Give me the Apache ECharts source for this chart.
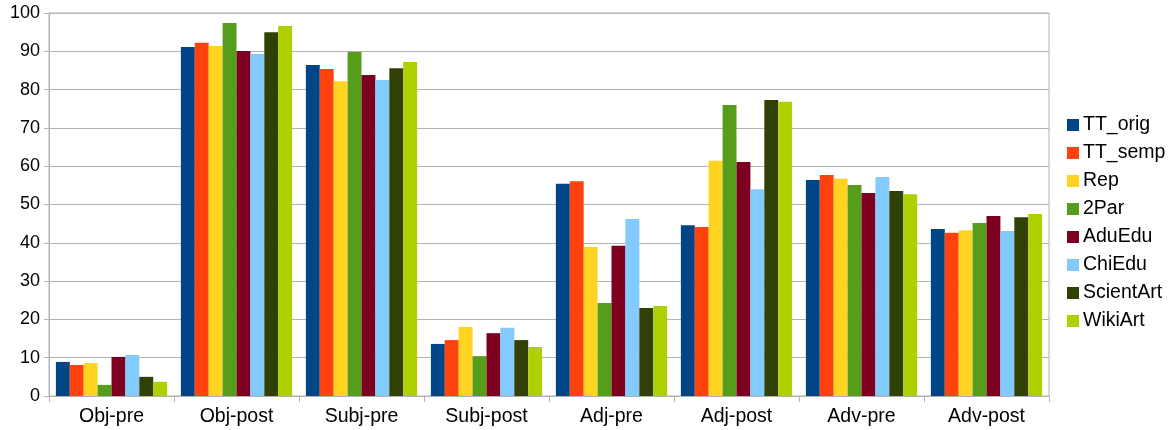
<!DOCTYPE html>
<html>
<head>
<meta charset="utf-8">
<script src="https://cdn.jsdelivr.net/npm/echarts@6/dist/echarts.min.js"></script>
<style>
  html, body { margin: 0; padding: 0; background: #fff; }
  #chart { width: 1175px; height: 430px; }
</style>
</head>
<body>
<div id="chart"></div>
<script>
// Categories along the x axis
const categories = ['Obj-pre', 'Obj-post', 'Subj-pre', 'Subj-post', 'Adj-pre', 'Adj-post', 'Adv-pre', 'Adv-post'];

// One array per system, values in category order
const TT_orig   = [8.9, 91.1, 86.4, 13.6, 55.4, 44.6, 56.4, 43.6];
const TT_semp   = [8.1, 92.2, 85.4, 14.6, 56.1, 44.1, 57.7, 42.6];
const Rep       = [8.6, 91.4, 82.2, 18.0, 38.9, 61.4, 56.7, 43.3];
const TwoPar    = [2.9, 97.4, 89.8, 10.4, 24.3, 76.0, 55.1, 45.2];
const AduEdu    = [10.2, 90.1, 83.8, 16.4, 39.2, 61.1, 53.0, 47.0];
const ChiEdu    = [10.7, 89.3, 82.5, 17.8, 46.2, 54.0, 57.2, 43.1];
const ScientArt = [5.0, 95.0, 85.6, 14.6, 23.0, 77.3, 53.5, 46.7];
const WikiArt   = [3.7, 96.6, 87.2, 12.8, 23.5, 76.8, 52.7, 47.5];

const seriesNames = ['TT_orig', 'TT_semp', 'Rep', '2Par', 'AduEdu', 'ChiEdu', 'ScientArt', 'WikiArt'];
const seriesData = [TT_orig, TT_semp, Rep, TwoPar, AduEdu, ChiEdu, ScientArt, WikiArt];
const colors = ['#004586', '#ff420e', '#ffd320', '#579d1c', '#7e0021', '#83caff', '#314004', '#aecf00'];

const yTicks = { min: 0, max: 100, interval: 10 };

const chart = echarts.init(document.getElementById('chart'), null, { renderer: 'canvas' });
const font = '"Liberation Sans", Arial, sans-serif';

chart.setOption({
  animation: false,
  color: colors,
  textStyle: { fontFamily: font },
  grid: {
    left: 49, right: 126, top: 13, bottom: 34,
    show: true, borderColor: '#b3b3b3', borderWidth: 1, backgroundColor: 'transparent'
  },
  legend: {
    orient: 'vertical',
    left: 1067, top: 114,
    padding: 0,
    itemWidth: 12, itemHeight: 12, itemGap: 6,
    icon: 'rect',
    textStyle: { fontSize: 19.5, lineHeight: 22, color: '#000', fontFamily: font, padding: [0, 0, 0, -1] },
    data: seriesNames
  },
  xAxis: {
    type: 'category',
    data: categories,
    axisLine: { lineStyle: { color: '#b3b3b3' } },
    axisTick: { show: true, length: 6, lineStyle: { color: '#b3b3b3' } },
    axisLabel: { fontSize: 19.5, color: '#000', margin: 11, fontFamily: font }
  },
  yAxis: {
    type: 'value',
    min: yTicks.min, max: yTicks.max, interval: yTicks.interval,
    axisLine: { show: true, lineStyle: { color: '#b3b3b3' } },
    axisTick: { show: true, length: 5, lineStyle: { color: '#b3b3b3' } },
    splitLine: { lineStyle: { color: '#b3b3b3' } },
    axisLabel: { fontSize: 18, color: '#000', margin: 9, fontFamily: font }
  },
  series: seriesNames.map((name, i) => ({
    name,
    type: 'bar',
    data: seriesData[i],
    barGap: '0%',
    barCategoryGap: '11%',
    itemStyle: { color: colors[i] }
  }))
});
</script>
</body>
</html>
